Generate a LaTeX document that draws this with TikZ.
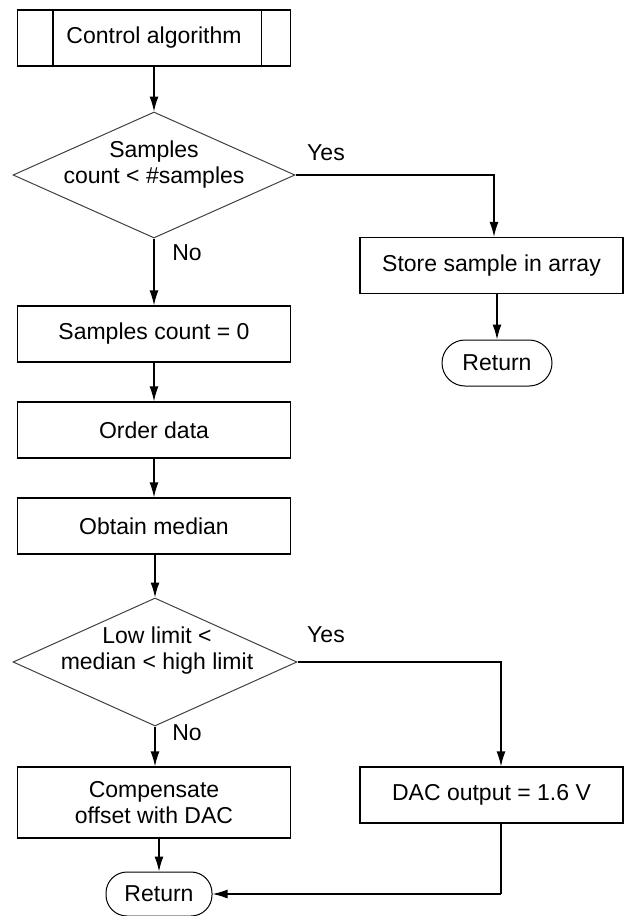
\documentclass[tikz,border=0pt]{standalone}
\usepackage{fontspec}
\setmainfont{Liberation Sans}
\usetikzlibrary{shapes.geometric,arrows.meta}
\begin{document}
\begin{tikzpicture}[x=1pt,y=-1pt,
  every node/.style={font=\fontsize{23}{26}\selectfont, inner sep=0pt},
  procbox/.style={draw, line width=1.3pt, rectangle, minimum width=273pt, minimum height=56pt, align=center},
  sidebox/.style={draw, line width=1.3pt, rectangle, minimum width=263pt, minimum height=56pt, align=center},
  decision/.style={draw, line width=1pt, black!75, diamond, inner sep=0pt},
  dectext/.style={align=center},
  term/.style={draw, line width=1pt, rectangle, rounded corners=21pt, minimum height=44pt},
  lbl/.style={},
  conn/.style={line width=1.3pt, -{Latex[length=15pt,width=9pt]}},
  plain/.style={line width=1.3pt}
]
\useasboundingbox (0,0) rectangle (624,916);

% left column
\node[procbox] (ctrl) at (154,38) {Control algorithm};
\draw[line width=1.3pt] ([xshift=36pt]ctrl.north west) -- ([xshift=36pt]ctrl.south west);
\draw[line width=1.3pt] ([xshift=-30pt]ctrl.north east) -- ([xshift=-30pt]ctrl.south east);

\node[decision, minimum width=282pt, minimum height=126pt] (d1) at (154,175) {};
\node[dectext] (d1t) at (154,165) {Samples\\count < \#samples};

\node[procbox] (sc0) at (154,334) {Samples count = 0};
\node[procbox] (ord) at (154,430) {Order data};
\node[procbox] (med) at (154,526) {Obtain median};

\node[decision, minimum width=284pt, minimum height=128pt] (d2) at (155,662) {};
\node[dectext] (d2t) at (157,651) {Low limit <\\median < high limit};

\node[procbox, minimum height=71pt] (comp) at (154,802.5) {Compensate\\offset with DAC};
\node[term, minimum width=106pt] (ret2) at (159,894) {Return};

% right column
\node[sidebox] (store) at (491.5,265.5) {Store sample in array};
\node[term, minimum width=110pt, rounded corners=23pt, minimum height=46pt] (ret1) at (497,363) {Return};
\node[sidebox] (dac) at (491.5,795) {DAC output = 1.6 V};

% labels
\node[lbl] (yes1) at (326,153) {Yes};
\node[lbl] (no1) at (187,253) {No};
\node[lbl] (yes2) at (326,635) {Yes};
\node[lbl] (no2) at (187,733) {No};

% connectors
\coordinate (c1) at (494,175);
\coordinate (c2) at (501,662);
\coordinate (c3) at (501,894);
\draw[conn] (ctrl.south -| d1.north) -- (d1.north);
\draw[conn] (d1.south) -- (d1.south |- sc0.north);
\draw[conn] (sc0.south -| d1.south) -- (d1.south |- ord.north);
\draw[conn] (ord.south -| d1.south) -- (d1.south |- med.north);
\draw[conn] (med.south -| d2.north) -- (d2.north);
\draw[conn] (d2.south) -- (d2.south |- comp.north);
\draw[conn] (comp.south -| ret2.north) -- (ret2.north);
\draw[conn] (d1.east) -- (c1) -- (c1 |- store.north);
\draw[conn] (store.south -| ret1.north) -- (ret1.north);
\draw[conn] (d2.east) -- (c2) -- (c2 |- dac.north);
\draw[plain] (c2 |- dac.south) -- (c3);
\draw[conn] (c3) -- (ret2.east);
\end{tikzpicture}
\end{document}
